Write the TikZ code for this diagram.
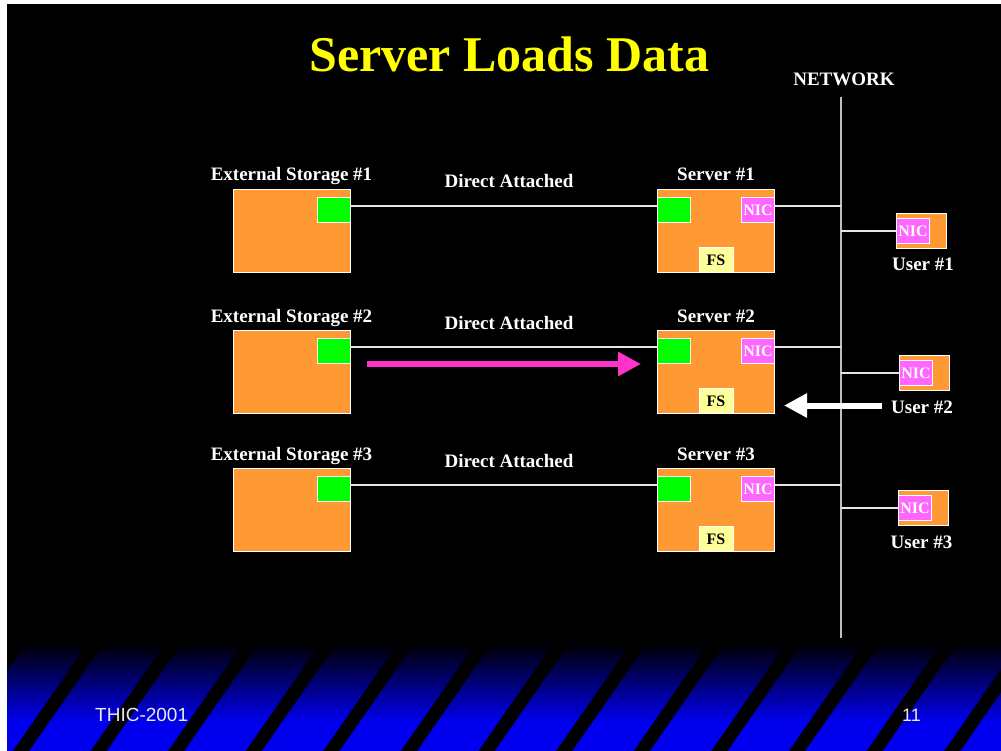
\documentclass[tikz,border=0pt]{standalone}
\usepackage{fontspec}
\setmainfont{Liberation Serif}
\newfontfamily\arialfont{Liberation Sans}
\usetikzlibrary{arrows.meta}
\definecolor{orangebox}{RGB}{255,153,51}
\definecolor{portgreen}{RGB}{0,255,0}
\definecolor{nicpink}{RGB}{255,102,255}
\definecolor{fsyellow}{RGB}{255,255,153}
\definecolor{titleyellow}{RGB}{255,255,0}
\definecolor{arrowpink}{RGB}{255,51,204}
\definecolor{bandblue}{RGB}{0,0,238}
\definecolor{netgray}{RGB}{190,190,190}
\definecolor{wireclr}{RGB}{230,230,230}
\tikzset{
  bigbox/.style={draw=white, line width=1pt, fill=orangebox, inner sep=0pt,
    anchor=north west, minimum width=117pt, minimum height=83pt},
  userbox/.style={draw=white, line width=1pt, fill=orangebox, inner sep=0pt,
    anchor=north west, minimum width=50pt, minimum height=35pt},
  gport/.style={draw=white, line width=1pt, fill=portgreen, inner sep=0pt,
    minimum width=33pt, minimum height=25pt},
  nicbox/.style={draw=white, line width=1pt, fill=nicpink, inner sep=0pt,
    minimum width=33pt, minimum height=25pt, text=white,
    font=\fontsize{16}{16}\selectfont\bfseries},
  fsbox/.style={draw=white, line width=1pt, fill=fsyellow, inner sep=0pt,
    minimum width=34pt, minimum height=25pt, text=black,
    font=\fontsize{16}{16}\selectfont\bfseries},
  lbl/.style={text=white, inner sep=0pt, anchor=base,
    font=\fontsize{19}{19}\selectfont\bfseries},
  wire/.style={draw=wireclr, line width=1.3pt},
  netline/.style={draw=netgray, line width=2pt},
  footer/.style={text=white!92!black, inner sep=0pt, anchor=base west,
    font=\arialfont\fontsize{19}{19}\selectfont},
}
\begin{document}
\begin{tikzpicture}[x=1pt,y=-1pt]
\useasboundingbox (0,0) rectangle (1001,751);
\fill[white] (0,0) rectangle (1001,751);
\fill[black] (7,4) rectangle (1001,751);
% footer band
\begin{scope}
  \clip (7,643) rectangle (1001,751);
  \shade[top color=black, bottom color=bandblue] (7,643) rectangle (1001,722);
  \fill[bandblue] (7,721.5) rectangle (1001,751);
  \foreach \k in {-1,...,12} {
    \fill[black] ({88+77.6*\k},643) -- ++(16,0) -- ++(-75,108) -- ++(-16,0) -- cycle;
  }
\end{scope}
% title
\node[text=titleyellow, inner sep=0pt, anchor=base,
  font=\fontsize{50}{50}\selectfont\bfseries] (title) at (509.5,72) {Server Loads Data};
% network
\node[lbl] (netlbl) at (844,86) {NETWORK};
\coordinate (nettop) at (841,97);
\coordinate (netbot) at (841,638);
\draw[netline] (nettop) -- (netbot);
% rows
\foreach \r/\ry/\ux/\uy/\lx in {1/189/896/213/923, 2/330/899/355/922, 3/468/898/490/921.5} {
  \node[bigbox] (st\r) at (233,\ry) {};
  \node[gport, anchor=north east] (sp\r) at ([yshift=-8pt]st\r.north east) {};
  \node[bigbox] (sv\r) at (657,\ry) {};
  \node[gport, anchor=north west] (gs\r) at ([yshift=-8pt]sv\r.north west) {};
  \node[nicbox, anchor=north east] (nic\r) at ([yshift=-8pt]sv\r.north east) {NIC};
  \node[fsbox, anchor=south] (fs\r) at (sv\r.south) {FS};
  \node[userbox] (us\r) at (\ux,\uy) {};
  \node[nicbox, anchor=west] (un\r) at (us\r.west) {NIC};
  \node[lbl] (stl\r) at (291.5,\ry-8) {External Storage \#\r};
  \node[lbl] (svl\r) at (716,\ry-8) {Server \#\r};
  \node[lbl] (dal\r) at (509,\ry-1) {Direct Attached};
  \node[lbl] (usl\r) at (\lx,\uy+58) {User \#\r};
  \draw[wire] ([yshift=4pt]sp\r.east) -- ([yshift=4pt]gs\r.west);
  \coordinate (nn\r) at ([yshift=4pt]nic\r.east);
  \draw[wire] (nn\r) -- (nn\r -| nettop);
  \draw[wire] (un\r.west) -- (un\r.west -| nettop);
}
% arrows
\coordinate (pinkA) at (367,364);
\coordinate (pinkB) at (641,364);
\draw[draw=arrowpink, line width=6pt, -{Triangle[length=23pt,width=23pt]}] (pinkA) -- (pinkB);
\coordinate (whiteA) at (882,405.5);
\coordinate (whiteB) at (784,405.5);
\draw[draw=white, fill=white, line width=6pt, -{Triangle[length=23pt,width=23pt]}] (whiteA) -- (whiteB);
% footer text
\node[footer] (thic) at (95,721) {THIC-2001};
\node[footer, font=\arialfont\fontsize{18}{18}\selectfont] (pg) at (902,721) {11};
\end{tikzpicture}
\end{document}
